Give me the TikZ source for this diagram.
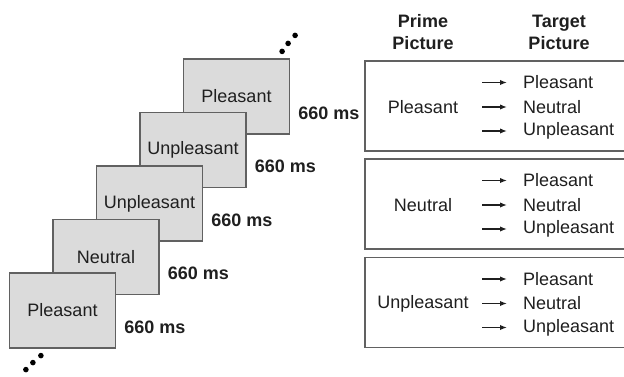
\documentclass[tikz,border=0pt]{standalone}
\usepackage{fontspec}
\setmainfont{Liberation Sans}
\usepackage{xcolor}
\colorlet{colSlide}{gray!28}
\colorlet{colEdge}{black!62}
\colorlet{colInk}{black!88}
\usetikzlibrary{arrows.meta, positioning, calc}

\begin{document}
\begin{tikzpicture}[x=1pt, y=1pt, >=Stealth,
    every node/.style={font=\fontsize{18}{22}\selectfont, text=colInk, inner sep=2pt}]
  \useasboundingbox (0,0) rectangle (624,377);
  \tikzset{
    slide/.style={draw=colEdge, line width=1.2pt, fill=colSlide,
      minimum width=106pt, minimum height=75pt},
    timelbl/.style={font=\fontsize{18}{22}\selectfont\bfseries, anchor=west},
    header/.style={font=\fontsize{18}{22}\selectfont\bfseries, align=center},
    group/.style={draw=colEdge, line width=1.3pt, minimum width=263pt, minimum height=90pt},
    pdot/.style={fill=black, circle, inner sep=0pt, minimum size=5.6pt},
    pairarrow/.style={-{Latex[length=7pt, width=5.4pt]}, line width=1.5pt, draw=colInk, shorten >=14pt}
  }
  % picture stream, drawn back to front
  \foreach \i/\l in {5/Pleasant, 4/Unpleasant, 3/Unpleasant, 2/Neutral, 1/Pleasant}{
    \node[slide] (slide\i) at ({62.5+43.5*(\i-1)}, {66.5+53.5*(\i-1)}) {\l};
    \node[timelbl] (time\i) at ([xshift=6pt, yshift=-16.5pt]slide\i.east) {660 ms};
  }
  \foreach \dx/\dy [count=\k] in {-8/7, -2/15, 5/23}
    \node[pdot] (dotTop\k) at ($(slide5.north east)+(\dx,\dy)$) {};
  \foreach \dx/\dy [count=\k] in {17/-21, 24/-14, 32/-7}
    \node[pdot] (dotBot\k) at ($(slide1.south west)+(\dx,\dy)$) {};

  % prime -> target pairs
  \node[header] (hdrPrime) at (423,345) {Prime\\Picture};
  \node[header] (hdrTarget) at (559,345) {Target\\Picture};
  \foreach \g/\p/\y in {A/Pleasant/271, B/Neutral/173, C/Unpleasant/74.5}{
    \node[group] (grp\g) at (496.5,\y) {};
    \node (prime\g) at ($(grp\g.center -| hdrPrime)+(0,-1)$) {\p};
    \foreach \t/\dy [count=\k] in {Pleasant/23.5, Neutral/-1, Unpleasant/-25}{
      \node[anchor=west] (tgt\g\k) at ($(grp\g.center)+(24.5,\dy)$) {\t};
      \coordinate (tail\g\k) at ($(tgt\g\k.west)+(-39,0)$);
      \draw[pairarrow] (tail\g\k) -- (tgt\g\k);
    }
  }
\end{tikzpicture}
\end{document}
